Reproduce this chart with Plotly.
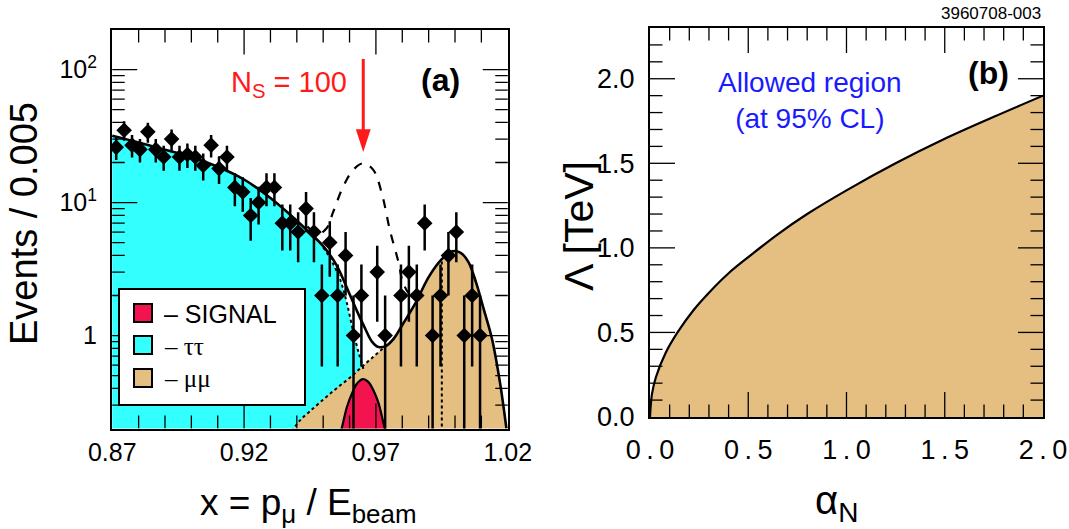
import numpy as np
import plotly.graph_objects as go

W, H = 1069, 529

# ---------------- Panel (a) data ----------------
x_centers = [0.8715, 0.8745, 0.8775, 0.8805, 0.8835, 0.8865, 0.8895, 0.8925, 0.8955, 0.8985,
             0.9015, 0.9045, 0.9075, 0.9105, 0.9135, 0.9165, 0.9195, 0.9225, 0.9255, 0.9285,
             0.9315, 0.9345, 0.9375, 0.9405, 0.9435, 0.9465, 0.9495, 0.9525, 0.9555, 0.9585,
             0.9615, 0.9645, 0.9675, 0.9705, 0.9735, 0.9765, 0.9795, 0.9825, 0.9855, 0.9885,
             0.9915, 0.9945, 0.9975, 1.0005, 1.0035, 1.0065, 1.0095, 1.0125, 1.0155, 1.0185]
counts = [26, 35, 27, 25, 34, 25, 22, 30, 22, 23,
          22, 19, 27, 18, 22, 13, 12, 8, 10, 13,
          13, 7, 7, 6, 9, 6, 2, 5, 2, 4,
          1, 2, 0, 3, 1, 0, 2, 3, 2, 7,
          1, 2, 4, 6, 1, 2, 1, 0, 0, 0]

# total fit (solid line)
total_x = [0.870, 0.880, 0.890, 0.900, 0.910, 0.920, 0.930, 0.940, 0.945, 0.950,
           0.955, 0.960, 0.963, 0.966, 0.9685, 0.9710, 0.9740, 0.9770, 0.9800, 0.9850,
           0.9900, 0.9950, 0.9990, 1.0020, 1.0050, 1.0080, 1.0110, 1.0140, 1.0170, 1.0195]
total_y = [31.8, 28.3, 24.9, 22.0, 18.6, 14.9, 10.8, 7.3, 5.9, 4.7,
           3.4, 2.05, 1.5, 1.12, 0.9, 0.82, 0.84, 0.96, 1.2, 1.75,
           2.75, 3.75, 4.3, 4.2, 3.6, 2.5, 1.55, 0.95, 0.45, 0.2]

# tau tau component (cyan)
tau_x = [0.870, 0.880, 0.890, 0.900, 0.910, 0.920, 0.930, 0.940, 0.945, 0.950,
         0.9530, 0.9564, 0.9590, 0.9614, 0.9635, 0.9655, 0.9675, 0.9700]
tau_y = [31.8, 28.3, 24.9, 22.0, 18.6, 14.9, 10.8, 7.3, 5.9, 4.6,
         3.7, 2.65, 1.75, 1.07, 0.74, 0.54, 0.33, 0.15]

# mu mu component (tan)
mumu_x = [0.9380, 0.9412, 0.9450, 0.9500, 0.9550, 0.9600, 0.9650, 0.9700, 0.9740, 0.9770,
          0.9800, 0.9850, 0.9900, 0.9950, 0.9990, 1.0020, 1.0050, 1.0080, 1.0110, 1.0140,
          1.0170, 1.0195, 1.0215]
mumu_y = [0.19, 0.23, 0.27, 0.33, 0.40, 0.48, 0.59, 0.72, 0.84, 0.94,
          1.18, 1.74, 2.75, 3.75, 4.3, 4.2, 3.6, 2.5, 1.55, 0.95,
          0.45, 0.2, 0.1]

# signal component (red, fitted)
sig_x = [0.9550, 0.9570, 0.9590, 0.9610, 0.9630, 0.9652, 0.9670, 0.9690, 0.9710, 0.9734, 0.9755]
sig_y = [0.15, 0.20, 0.29, 0.37, 0.44, 0.47, 0.45, 0.39, 0.31, 0.20, 0.15]

# total with N_S = 100 (dashed)
ns100_x = [0.9440, 0.9480, 0.9513, 0.9538, 0.9576, 0.9614, 0.9652, 0.9690, 0.9722, 0.9753,
           0.9785, 0.9803, 0.9830, 0.9860]
ns100_y = [6.6, 5.8, 6.4, 8.5, 13.2, 17.6, 19.7, 17.6, 11.8, 6.2,
           3.6, 2.5, 2.05, 2.2]

cut_x = 0.995          # vertical dotted marker
cut_top = 3.75
signal_peak_x = 0.9652
arrow_tip, arrow_tail = 24.0, 120.0

# tick positions
xa_ticks = [0.87, 0.92, 0.97, 1.02]
xa_minor = [0.88, 0.89, 0.90, 0.91, 0.93, 0.94, 0.95, 0.96, 0.98, 0.99, 1.00, 1.01]
ya_ticks = [1, 10, 100]
ya_minor = [0.3, 0.4, 0.5, 0.6, 0.7, 0.8, 0.9, 2, 3, 4, 5, 6, 7, 8, 9,
            20, 30, 40, 50, 60, 70, 80, 90]

# ---------------- Panel (b) data ----------------
alpha_n = [0.0, 0.01, 0.03, 0.08, 0.14, 0.22, 0.30, 0.40, 0.50, 0.65, 0.80, 1.00, 1.25, 1.50, 1.75, 2.00]
lam_tev = [0.0, 0.135, 0.235, 0.38, 0.50, 0.63, 0.735, 0.85, 0.945, 1.08, 1.20, 1.34, 1.50, 1.645, 1.775, 1.90]
xb_ticks = [0.0, 0.5, 1.0, 1.5, 2.0]
xb_text = ["0\u2009.\u20090", "0\u2009.\u20095", "1\u2009.\u20090", "1\u2009.\u20095", "2\u2009.\u20090"]
xb_minor = [0.1, 0.2, 0.3, 0.4, 0.6, 0.7, 0.8, 0.9, 1.1, 1.2, 1.3, 1.4, 1.6, 1.7, 1.8, 1.9]
yb_ticks = [0.0, 0.5, 1.0, 1.5, 2.0]
yb_text = ["0.0", "0.5", "1.0", "1.5", "2.0"]
yb_minor = [0.1, 0.2, 0.3, 0.4, 0.6, 0.7, 0.8, 0.9, 1.1, 1.2, 1.3, 1.4, 1.6, 1.7, 1.8, 1.9, 2.1, 2.2]

CYAN = "#33FFFF"
TAN = "#E5BE82"
RED = "#F2134F"
ARROW_RED = "#FF1A1A"
FONT = "Liberation Sans"

# axis ranges and pixel geometry of the two frames
XA_RANGE = (0.87, 1.02)
YA_RANGE = (0.2, 200.0)
XB_RANGE = (0.0, 2.0)
YB_RANGE = (0.0, 2.3)
A_X0, A_X1, A_Y0, A_Y1 = 112, 508, 29.5, 428.5
B_X0, B_X1, B_Y0, B_Y1 = 650, 1043, 28, 417
MAJ, MIN = 25.0, 12.5   # tick lengths in px

fig = go.Figure()

# fills
fig.add_trace(go.Scatter(x=tau_x, y=tau_y, mode="lines", fill="tozeroy", fillcolor=CYAN,
                         line=dict(width=0, color=CYAN), line_shape="spline",
                         xaxis="x", yaxis="y"))
fig.add_trace(go.Scatter(x=mumu_x, y=mumu_y, mode="lines", fill="tozeroy", fillcolor=TAN,
                         line=dict(width=0, color=TAN), line_shape="spline",
                         xaxis="x", yaxis="y"))
fig.add_trace(go.Scatter(x=sig_x, y=sig_y, mode="lines", fill="tozeroy", fillcolor=RED,
                         line=dict(width=2.2, color="black"), line_shape="spline",
                         xaxis="x", yaxis="y"))
# dotted component boundaries
fig.add_trace(go.Scatter(x=tau_x[9:16], y=tau_y[9:16], mode="lines", line_shape="spline",
                         line=dict(width=2, color="black", dash="dot"), xaxis="x", yaxis="y"))
fig.add_trace(go.Scatter(x=mumu_x[:10], y=mumu_y[:10], mode="lines", line_shape="spline",
                         line=dict(width=2, color="black", dash="dot"), xaxis="x", yaxis="y"))
fig.add_trace(go.Scatter(x=[cut_x, cut_x], y=[0.1, cut_top], mode="lines",
                         line=dict(width=2, color="black", dash="dot"), xaxis="x", yaxis="y"))
# total fit and N_S = 100 curve
fig.add_trace(go.Scatter(x=ns100_x, y=ns100_y, mode="lines", line_shape="spline",
                         line=dict(width=2.2, color="black", dash="dash"), xaxis="x", yaxis="y"))
fig.add_trace(go.Scatter(x=total_x, y=total_y, mode="lines", line_shape="spline",
                         line=dict(width=2.6, color="black"), xaxis="x", yaxis="y"))
# data points (Poisson errors; lower bar clipped just below the axis floor)
px = [x for x, c in zip(x_centers, counts) if c > 0]
py = [c for c in counts if c > 0]
pe_up = [float(np.sqrt(c)) for c in py]
pe_dn = [min(float(np.sqrt(c)), c - 0.15) for c in py]
fig.add_trace(go.Scatter(x=px, y=py, mode="markers",
                         marker=dict(symbol="diamond", size=12, color="black"),
                         error_y=dict(type="data", array=pe_up, arrayminus=pe_dn, symmetric=False,
                                      visible=True, width=0, thickness=2.5, color="black"),
                         xaxis="x", yaxis="y"))
# red arrow pointing at the N_S = 100 peak
fig.add_trace(go.Scatter(x=[signal_peak_x, signal_peak_x], y=[arrow_tail, arrow_tip * 1.25],
                         mode="lines", line=dict(width=3, color=ARROW_RED), xaxis="x", yaxis="y"))
fig.add_trace(go.Scatter(x=[signal_peak_x], y=[arrow_tip], mode="markers",
                         marker=dict(symbol="arrow", angle=180, size=24, color=ARROW_RED,
                                     line=dict(width=0)),
                         xaxis="x", yaxis="y"))

# panel (b)
fig.add_trace(go.Scatter(x=alpha_n, y=lam_tev, mode="lines", fill="tozeroy", fillcolor=TAN,
                         line=dict(width=2.2, color="black"), line_shape="spline",
                         xaxis="x2", yaxis="y2"))

# ---- inward tick marks on all four sides, drawn as line traces in axis units ----
def tick_trace(xs, ys, xaxis, yaxis):
    fig.add_trace(go.Scatter(x=xs, y=ys, mode="lines", line=dict(color="black", width=1.3),
                             xaxis=xaxis, yaxis=yaxis, hoverinfo="skip"))

# panel (a): linear x, log y
ax_px_per_unit = (A_X1 - A_X0) / (XA_RANGE[1] - XA_RANGE[0])
ay_px_per_dec = (A_Y1 - A_Y0) / (np.log10(YA_RANGE[1]) - np.log10(YA_RANGE[0]))
xs, ys = [], []
for vals, L in [(xa_ticks[1:3], MAJ), (xa_minor, 13.0)]:
    f = 10 ** (L / ay_px_per_dec)
    for v in vals:
        xs += [v, v, None, v, v, None]
        ys += [YA_RANGE[0], YA_RANGE[0] * f, None, YA_RANGE[1], YA_RANGE[1] / f, None]
for vals, L in [(ya_ticks, MAJ), (ya_minor, MIN)]:
    d = L / ax_px_per_unit
    for v in vals:
        xs += [XA_RANGE[0], XA_RANGE[0] + d, None, XA_RANGE[1], XA_RANGE[1] - d, None]
        ys += [v, v, None, v, v, None]
tick_trace(xs, ys, "x", "y")

# panel (b): linear x, linear y
bx_px_per_unit = (B_X1 - B_X0) / (XB_RANGE[1] - XB_RANGE[0])
by_px_per_unit = (B_Y1 - B_Y0) / (YB_RANGE[1] - YB_RANGE[0])
xs, ys = [], []
for vals, L in [(xb_ticks[1:4], MAJ), (xb_minor, MIN)]:
    d = L / by_px_per_unit
    for v in vals:
        xs += [v, v, None, v, v, None]
        ys += [YB_RANGE[0], YB_RANGE[0] + d, None, YB_RANGE[1], YB_RANGE[1] - d, None]
for vals, L in [(yb_ticks[1:], MAJ), (yb_minor, MIN)]:
    d = L / bx_px_per_unit
    for v in vals:
        xs += [XB_RANGE[0], XB_RANGE[0] + d, None, XB_RANGE[1], XB_RANGE[1] - d, None]
        ys += [v, v, None, v, v, None]
tick_trace(xs, ys, "x2", "y2")

axis_common = dict(showgrid=False, zeroline=False, showline=True, linecolor="black",
                   linewidth=2, mirror=True, ticks="")

fig.update_layout(
    width=W, height=H, margin=dict(l=0, r=0, t=0, b=0, autoexpand=False),
    paper_bgcolor="white", plot_bgcolor="white", showlegend=False,
    font=dict(family=FONT, color="black"),
    xaxis=dict(domain=[A_X0 / W, A_X1 / W], anchor="y",
               range=[XA_RANGE[0] - 0.0001, XA_RANGE[1] + 0.0001],
               tickmode="array", tickvals=xa_ticks, ticktext=[f"{v:.2f}" for v in xa_ticks],
               tickfont=dict(size=25, family=FONT, color="black"), **axis_common),
    yaxis=dict(domain=[1 - A_Y1 / H, 1 - A_Y0 / H], anchor="x", type="log",
               range=[float(np.log10(YA_RANGE[0])), float(np.log10(YA_RANGE[1]))],
               tickmode="array", tickvals=ya_ticks,
               ticktext=["1", "10<sup>1</sup>", "10<sup>2</sup>"],
               tickfont=dict(size=25, family=FONT, color="black"), ticklabelstandoff=8,
               **axis_common),
    xaxis2=dict(domain=[B_X0 / W, B_X1 / W], anchor="y2",
                range=[XB_RANGE[0], XB_RANGE[1] + 0.0001],
                tickmode="array", tickvals=xb_ticks, ticktext=xb_text,
                tickfont=dict(size=27, family=FONT, color="black"), ticklabelstandoff=8,
                **axis_common),
    yaxis2=dict(domain=[1 - B_Y1 / H, 1 - B_Y0 / H], anchor="x2", range=list(YB_RANGE),
                tickmode="array", tickvals=yb_ticks, ticktext=yb_text,
                tickfont=dict(size=27, family=FONT, color="black"), ticklabelstandoff=8,
                **axis_common),
)

# legend box
shapes = [dict(type="rect", xref="paper", yref="paper", x0=119 / W, x1=305 / W,
               y0=1 - 405 / H, y1=1 - 289 / H, fillcolor="white",
               line=dict(color="black", width=2), layer="above")]
for yc, col in [(313, RED), (345, CYAN), (378, TAN)]:
    shapes.append(dict(type="rect", xref="paper", yref="paper", x0=134 / W, x1=152 / W,
                       y0=1 - (yc + 9) / H, y1=1 - (yc - 9) / H, fillcolor=col,
                       line=dict(color="black", width=2), layer="above"))
fig.update_layout(shapes=shapes)

ann = []
def txt(text, x, y, size, color="black", angle=0, xanchor="center", yanchor="middle", family=FONT):
    ann.append(dict(text=text, x=x, y=y, xref="paper", yref="paper", showarrow=False,
                    font=dict(size=size, color=color, family=family), textangle=angle,
                    xanchor=xanchor, yanchor=yanchor))

txt("Events / 0.005", 24 / W, 1 - 224 / H, 38, angle=-90)
txt("x = p<sub>μ</sub> / E<sub>beam</sub>", 308 / W, 1 - 505 / H, 37)
txt("<b>(a)</b>", 441 / W, 1 - 80 / H, 32)
txt("N<sub>S</sub> = 100", 289 / W, 1 - 84 / H, 29, color=ARROW_RED)
txt("Λ [TeV]", 579 / W, 1 - 226 / H, 41, angle=-90)
txt("α<sub>N</sub>", 836 / W, 1 - 503 / H, 40)
txt("<b>(b)</b>", 988 / W, 1 - 73 / H, 32)
txt("Allowed region<br>(at 95% CL)", 810 / W, 1 - 100 / H, 28, color="#1A1AFF")
txt("3960708-003", 1043 / W, 1 - 13 / H, 17, xanchor="right")
# legend texts
txt("– SIGNAL", 162 / W, 1 - 314 / H, 25, xanchor="left")
txt("– ττ", 162 / W, 1 - 346 / H, 25, xanchor="left", family="Liberation Serif")
txt("– μμ", 162 / W, 1 - 378 / H, 25, xanchor="left", family="Liberation Serif")
fig.update_layout(annotations=ann)

fig.write_html("out.html")
